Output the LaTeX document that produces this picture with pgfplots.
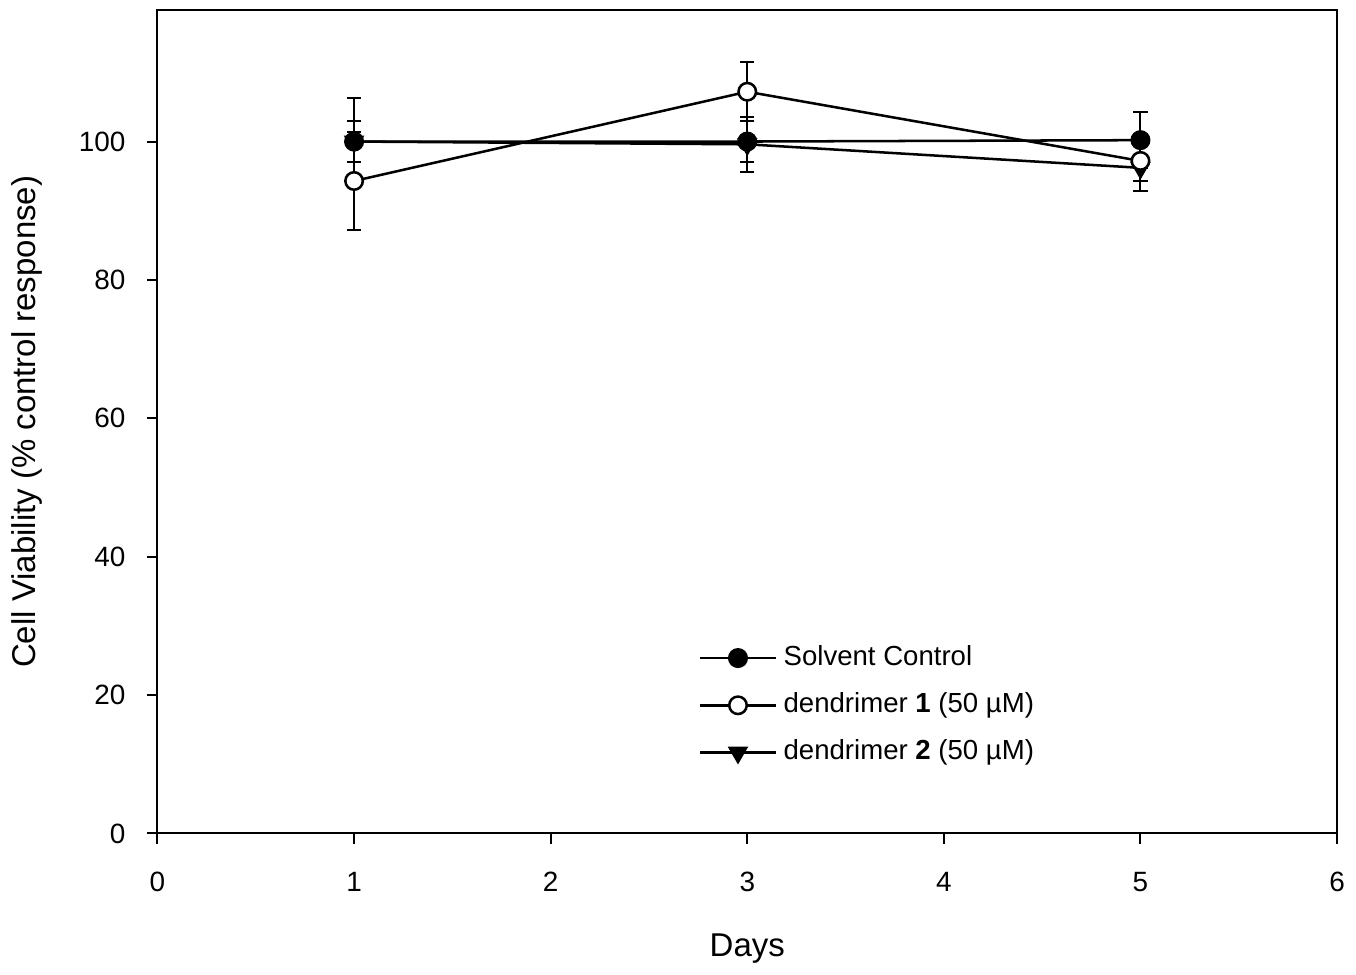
\documentclass[border=0pt]{standalone}
\usepackage{fontspec}
\setmainfont{Liberation Sans}
\usepackage{pgfplots}
\pgfplotsset{compat=1.18}

\begin{document}
\begin{tikzpicture}
\begin{axis}[
    name=main,
    scale only axis,
    width=350.7pt, height=244.8pt,
    xmin=0, xmax=6, ymin=0, ymax=119,
    xtick={0,1,2,3,4,5,6},
    ytick={0,20,40,60,80,100},
    tick align=outside,
    xtick pos=bottom, ytick pos=left,
    major tick length=3pt,
    axis line style={line width=0.6pt},
    tick style={line width=0.6pt, black},
    /pgf/number format/assume math mode=true,
    tick label style={font=\fontsize{8.3}{9}\selectfont},
    xticklabel style={yshift=-5pt},
    yticklabel style={xshift=-3pt},
    every axis x label/.style={at={(axis description cs:0.5,-0.14)}, anchor=center},
    every axis y label/.style={at={(axis description cs:-0.111,0.5)}, anchor=center, rotate=90},
    label style={font=\fontsize{9.8}{11}\selectfont},
    xlabel={Days},
    ylabel={Cell Viability (\% control response)},
    reverse legend,
    legend cell align=left,
    legend style={draw=none, fill=none, font=\fontsize{8.2}{10}\selectfont,
        at={(axis cs:2.70,29.2)}, anchor=north west, row sep=2.6pt,
        /tikz/every even column/.append style={column sep=2pt}},
    legend image code/.code={
        \draw[#1, mark repeat=2, mark phase=2] plot coordinates {(0pt,0pt) (11.2pt,0pt) (22.4pt,0pt)};},
    error bars/error bar style={line width=0.6pt, black},
    error bars/error mark options={rotate=90, mark size=2.1pt, line width=0.6pt, black},
]

% dendrimer 2 (50 uM)
\addplot[black, line width=0.75pt, mark=triangle*, mark size=2.8pt,
    mark options={rotate=180, fill=black},
    error bars/.cd, y dir=both, y explicit]
coordinates {
    (1, 100.0) +- (0, 6.3)
    (3, 99.6)  +- (0, 4.0)
    (5, 96.2)  +- (0, 3.4)
};
\addlegendentry{dendrimer \textbf{2} (50 µM)}

% dendrimer 1 (50 uM)
\addplot[black, line width=0.75pt, mark=*, mark size=2.6pt,
    mark options={fill=white},
    error bars/.cd, y dir=both, y explicit]
coordinates {
    (1, 94.3)  +- (0, 7.1)
    (3, 107.2) +- (0, 4.3)
    (5, 97.2)  +- (0, 2.9)
};
\addlegendentry{dendrimer \textbf{1} (50 µM)}

% solvent control
\addplot[black, line width=0.75pt, mark=*, mark size=2.6pt,
    mark options={fill=black},
    error bars/.cd, y dir=both, y explicit]
coordinates {
    (1, 100.0) +- (0, 2.9)
    (3, 100.0) +- (0, 2.9)
    (5, 100.2) +- (0, 4.0)
};
\addlegendentry{Solvent Control}

\end{axis}
\path ([yshift=3pt]main.north);
\end{tikzpicture}
\end{document}
